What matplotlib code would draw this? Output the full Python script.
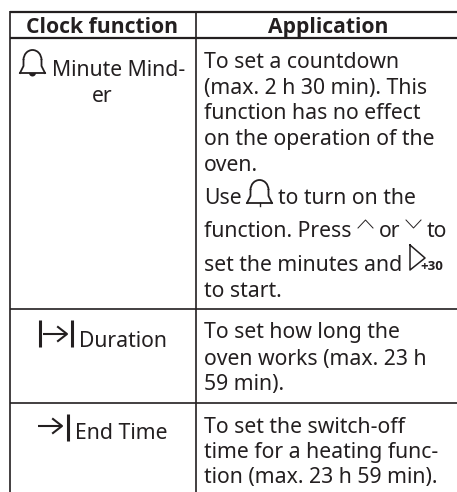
"""Clock function table, drawn in pixel coordinates."""
import matplotlib
matplotlib.use("Agg")
import matplotlib.pyplot as plt
from matplotlib.patches import Arc, Wedge

INK = "#231f20"
HEADERS = ["Clock function", "Application"]
ROW_LABELS = ["Minute Mind-", "er", "Duration", "End Time"]
APP_LINES = [
    "To set a countdown",
    "(max. 2 h 30 min). This",
    "function has no effect",
    "on the operation of the",
    "oven.",
    "Use",
    "to turn on the",
    "function. Press",
    "or",
    "to",
    "set the minutes and",
    "to start.",
    "To set how long the",
    "oven works (max. 23 h",
    "59 min).",
    "To set the switch-off",
    "time for a heating func-",
    "tion (max. 23 h 59 min).",
]

plt.rcParams["font.family"] = ["Noto Sans", "DejaVu Sans"]
FS = 15.25
BOLD = ["Open Sans", "Noto Sans"]

fig = plt.figure(figsize=(4.57, 4.92), dpi=100)
ax = fig.add_axes([0, 0, 1, 1])
ax.set_xlim(0, 457)
ax.set_ylim(492, 0)
ax.axis("off")


def txt(x, y, s, **kw):
    kw.setdefault("fontsize", FS)
    kw.setdefault("color", INK)
    kw.setdefault("va", "baseline")
    ax.text(x, y, s, **kw)


def bell(x, y, clapper=True):
    # x, y = centre of the bell's bottom edge
    ax.plot([x - 12.5, x - 9, x - 9], [y, y - 7, y - 13], color=INK, lw=1.3)
    ax.plot([x + 12.5, x + 9, x + 9], [y, y - 7, y - 13], color=INK, lw=1.3)
    ax.plot([x - 12.5, x + 12.5], [y, y], color=INK, lw=1.3)
    ax.add_patch(Arc((x, y - 13), 18, 20, theta1=180, theta2=360, color=INK, lw=1.3))
    if clapper:
        ax.add_patch(Wedge((x, y), 3.5, 0, 180, color=INK, lw=0))
    else:
        ax.plot([x, x], [y, y + 3], color=INK, lw=1.0)


def arrow(x0, x1, y):
    ax.plot([x0, x1], [y, y], color=INK, lw=1.5, solid_capstyle="butt")
    ax.plot([x1 - 9, x1, x1 - 9], [y - 7, y, y + 7], color=INK, lw=1.5)


# table rules
for y, lw in [(11.5, 1.6), (38, 1.6), (308.5, 1.2), (402.7, 1.2)]:
    ax.plot([10, 457], [y, y], color=INK, lw=lw, solid_capstyle="butt")
for x in [10, 195.7]:
    ax.plot([x, x], [11, 492], color=INK, lw=1.2, solid_capstyle="butt")

# header
txt(102.5, 33, HEADERS[0], family=BOLD, fontweight="bold", ha="center", fontsize=15.2)
txt(328, 33, HEADERS[1], family=BOLD, fontweight="bold", ha="center", fontsize=15.2)

# left column
bell(32.5, 73)
txt(51.5, 76, ROW_LABELS[0])
txt(102.5, 102, ROW_LABELS[1], ha="center")
ax.plot([39.5, 39.5], [320, 347], color=INK, lw=2.2, solid_capstyle="butt")
arrow(43, 67, 334)
ax.plot([71.5, 71.5], [320, 347], color=INK, lw=2.2, solid_capstyle="butt")
txt(79, 347, ROW_LABELS[2])
arrow(38, 62, 426)
ax.plot([67.5, 67.5], [414, 441], color=INK, lw=2.2, solid_capstyle="butt")
txt(75, 439, ROW_LABELS[3])

# right column
for y, s in zip([68, 94, 119, 145, 171], APP_LINES[:5]):
    txt(204, y, s)
txt(204, 204, APP_LINES[5])
bell(259.5, 203, clapper=False)
txt(278, 204, APP_LINES[6])
txt(204, 237, APP_LINES[7])
ax.plot([358, 365.5, 373], [228, 220, 228], color=INK, lw=0.7)
txt(379, 237, APP_LINES[8])
ax.plot([406, 413.5, 421], [220, 228, 220], color=INK, lw=0.7)
txt(427, 237, APP_LINES[9])
txt(204, 271, APP_LINES[10])
ax.plot([410, 410, 425, 410], [245, 270, 258, 245], color=INK, lw=1.1)
txt(420.5, 270, "+30", family=BOLD, fontweight="bold", fontsize=9.5)
txt(204, 297, APP_LINES[11])
for y, s in zip([338, 365, 390], APP_LINES[12:15]):
    txt(204, y, s)
for y, s in zip([433, 458, 483], APP_LINES[15:18]):
    txt(204, y, s)

fig.savefig("out.png", dpi=100)
